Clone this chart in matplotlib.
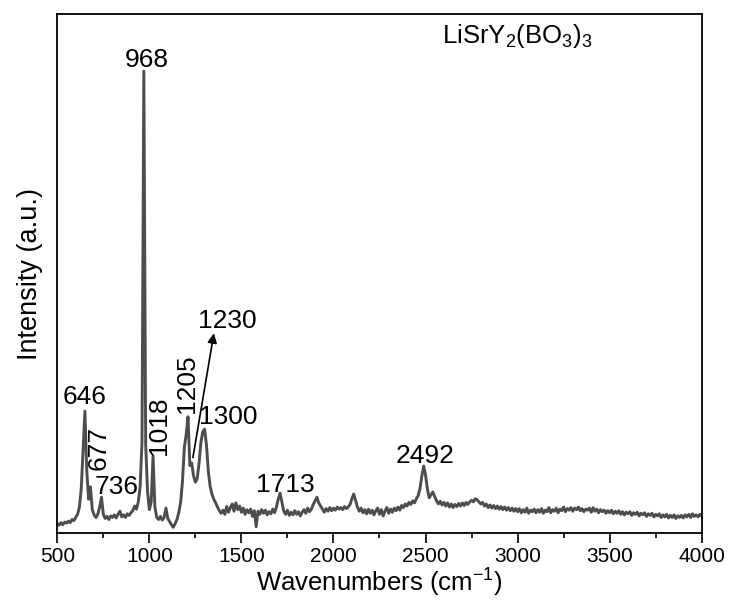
import numpy as np
import matplotlib
matplotlib.use('agg')
from matplotlib import pyplot as plt
from matplotlib.ticker import MultipleLocator, NullLocator

plt.rcParams['font.family'] = ['Liberation Sans', 'DejaVu Sans']
plt.rcParams['mathtext.fontset'] = 'custom'
plt.rcParams['mathtext.rm'] = 'Liberation Sans'
plt.rcParams['mathtext.default'] = 'regular'

# Raman spectrum, every 10 cm-1 (arbitrary units, 0-100)
wavenumbers = np.arange(500, 4001, 10)
intensity = [
    1.8, 1.5, 2.0, 1.6, 2.1, 1.9, 2.3, 2.0, 2.6, 2.4,        # 500
    3.0, 3.6, 5.0, 8.5, 16.0, 23.5, 12.0, 6.5, 8.9, 4.5,     # 600
    3.5, 3.0, 3.6, 5.0, 6.9, 3.6, 2.8, 3.2, 2.6, 3.3,        # 700
    3.0, 3.5, 2.9, 3.6, 4.2, 3.1, 3.5, 3.0, 3.7, 3.4,        # 800
    3.9, 4.3, 5.2, 4.6, 6.0, 9.0, 17.5, 89.0, 17.0, 8.0,     # 900
    4.5, 6.0, 14.8, 5.0, 3.0, 2.6, 3.2, 2.5, 3.0, 4.8,       # 1000
    2.8, 2.2, 1.6, 1.1, 1.8, 2.6, 4.0, 6.0, 10.0, 16.5,      # 1100
    19.0, 22.4, 13.0, 13.5, 11.0, 9.8, 10.5, 13.5, 17.5, 19.5,  # 1200
    20.0, 17.0, 12.0, 9.0, 7.5, 6.5, 5.8, 5.0, 4.3, 3.8,     # 1300
    4.4, 3.6, 5.1, 4.0, 4.9, 5.6, 4.2, 5.8, 4.5, 5.2,        # 1400
    4.0, 4.8, 3.6, 4.5, 3.9, 4.6, 3.2, 4.3, 1.2, 4.2,        # 1500
    3.6, 4.5, 3.8, 4.4, 3.5, 4.1, 3.7, 4.6, 3.9, 5.0,        # 1600
    6.5, 7.7, 6.0, 4.2, 3.6, 4.4, 3.4, 4.0, 3.5, 4.3,        # 1700
    3.6, 4.1, 3.3, 4.0, 4.5, 3.8, 4.8, 4.1, 4.6, 5.5,        # 1800
    6.2, 6.9, 5.8, 5.2, 4.6, 4.0, 4.7, 4.2, 4.9, 4.3,        # 1900
    4.8, 4.4, 5.0, 4.6, 4.9, 4.5, 5.1, 4.7, 5.0, 5.5,        # 2000
    6.6, 7.5, 6.3, 5.0, 4.2, 4.8, 3.9, 4.5, 3.7, 4.6,        # 2100
    3.8, 4.4, 3.5, 4.3, 4.8, 3.6, 4.5, 3.3, 4.2, 4.9,        # 2200
    3.8, 4.6, 4.0, 4.8, 4.3, 5.0, 4.4, 5.3, 4.9, 5.6,        # 2300
    5.2, 5.9, 5.5, 6.2, 5.8, 6.6, 7.2, 8.6, 11.0, 12.9,      # 2400
    11.2, 8.5, 6.8, 7.4, 7.9, 7.0, 6.2, 5.6, 6.1, 5.4,       # 2500
    5.9, 5.2, 5.8, 5.0, 5.6, 4.9, 5.5, 5.1, 5.7, 5.2,        # 2600
    5.8, 5.3, 5.9, 5.5, 6.0, 6.3, 6.0, 6.6, 6.4, 6.0,        # 2700
    5.6, 5.9, 5.2, 5.6, 4.9, 5.4, 4.8, 5.3, 4.7, 5.2,        # 2800
    4.6, 5.1, 4.5, 5.0, 4.4, 4.9, 4.3, 4.8, 4.2, 4.7,        # 2900
    4.1, 4.7, 3.9, 4.5, 4.0, 4.8, 3.8, 4.4, 4.1, 4.6,        # 3000
    3.9, 4.5, 4.0, 4.7, 3.8, 4.4, 4.1, 4.9, 3.9, 4.5,        # 3100
    4.2, 4.8, 3.9, 4.6, 4.3, 5.0, 4.1, 4.7, 4.4, 4.9,        # 3200
    4.2, 4.8, 4.5, 5.0, 4.3, 4.7, 4.1, 4.6, 4.4, 4.8,        # 3300
    4.0, 4.9, 4.2, 4.6, 3.9, 4.5, 4.1, 4.4, 3.8, 4.3,        # 3400
    3.9, 4.4, 3.7, 4.2, 3.8, 4.3, 3.6, 4.1, 3.5, 4.0,        # 3500
    3.7, 4.1, 3.4, 3.9, 3.6, 4.0, 3.3, 3.8, 3.5, 3.9,        # 3600
    3.2, 3.7, 3.4, 3.8, 3.1, 3.6, 3.3, 3.7, 3.0, 3.5,        # 3700
    3.1, 3.6, 2.9, 3.4, 3.0, 3.5, 2.8, 3.3, 3.0, 3.4,        # 3800
    2.9, 3.5, 3.1, 3.6, 3.0, 3.7, 3.2, 3.5, 3.1, 3.6,        # 3900
    3.3,                                                     # 4000
]

# peak labels: text, x, y, rotation
peak_labels = ['968', '646', '677', '736', '1018', '1205', '1300', '1713', '2492']
label_x = [984, 649, 725, 822, 1052, 1207, 1429, 1738, 2498]
label_y = [91.2, 26.3, 16.3, 8.8, 20.6, 28.8, 22.3, 9.2, 14.8]
label_rot = [0, 0, 90, 0, 90, 90, 0, 0, 0]

fig = plt.figure(figsize=(7.31, 6.07), dpi=100)
ax = fig.add_axes([0.0784, 0.1219, 0.8815, 0.855])

ax.plot(wavenumbers, intensity, color='#4d4d4d', linewidth=2.1)

for txt, x, y, rot in zip(peak_labels, label_x, label_y, label_rot):
    ax.text(x, y, txt, fontsize=19, rotation=rot, ha='center', va='center')

ax.text(1422, 40.9, '1230', fontsize=19, ha='center', va='center')
ax.annotate('', xy=(1353, 39.0), xytext=(1234, 14.0),
            arrowprops=dict(arrowstyle='-|>', color='black', lw=1.2, mutation_scale=14))

ax.text(2997, 95.8, r'LiSrY$_2$(BO$_3$)$_3$', fontsize=18.5, ha='center', va='center')

ax.set_xlim(500, 4000)
ax.set_ylim(0, 100)
ax.xaxis.set_major_locator(MultipleLocator(500))
ax.xaxis.set_minor_locator(MultipleLocator(250))
ax.yaxis.set_major_locator(NullLocator())
ax.tick_params(axis='x', which='major', direction='out', length=7, width=1.2, labelsize=15, pad=3)
ax.tick_params(axis='x', which='minor', direction='out', length=3.5, width=1.2)
for spine in ax.spines.values():
    spine.set_linewidth(1.3)

ax.set_xlabel('Wavenumbers (cm$^{-1}$)', fontsize=18.5, labelpad=1)
ax.set_ylabel('Intensity (a.u.)', fontsize=19.5, labelpad=10)

plt.savefig('out.png', dpi=100)
